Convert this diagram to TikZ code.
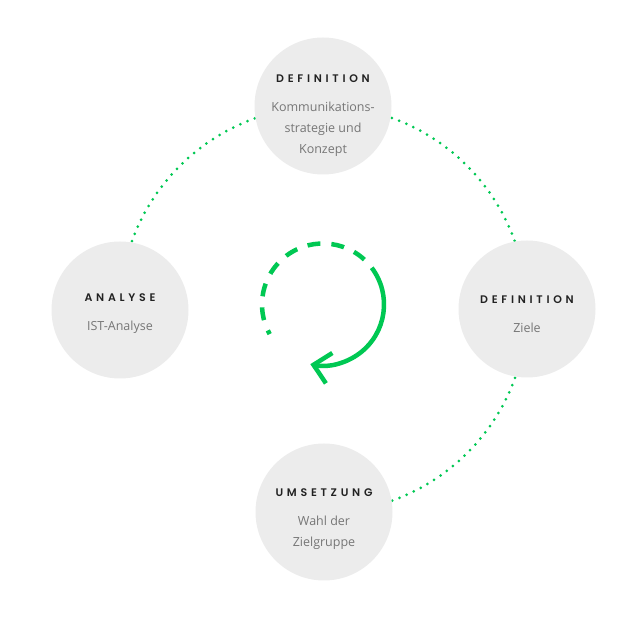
\documentclass[tikz,border=0pt]{standalone}
\usepackage{fontspec}
\setmainfont{Open Sans}
\newfontfamily\headfont[LetterSpace=34, BoldFont={* SemiBold}]{Poppins}
\usetikzlibrary{arrows.meta,backgrounds}

\definecolor{cyclegreen}{RGB}{0,200,83}
\definecolor{stagegray}{RGB}{236,236,236}
\definecolor{headgray}{RGB}{34,34,34}
\definecolor{bodygray}{RGB}{118,118,118}

\newcommand{\stagehead}[1]{{\headfont\bfseries\fontsize{11}{21}\selectfont\color{headgray}#1}}

\tikzset{
  stage/.style={circle, fill=stagegray, minimum size=137pt, inner sep=0pt},
  stagetext/.style={align=center, text=bodygray, inner sep=0pt,
    font=\fontsize{12.5}{21}\selectfont},
  ring/.style={cyclegreen, line width=3pt, line cap=round,
    dash pattern=on 0pt off 7.8pt},
  turn/.style={cyclegreen, line width=4.5pt}
}

\begin{document}
\begin{tikzpicture}[x=1pt, y=1pt]
\useasboundingbox (0,0) rectangle (640,620);

% the four stages
\node[stage] (definition) at (323,514) {};
\node[stage] (analyse) at (120,310) {};
\node[stage] (ziele) at (527,311) {};
\node[stage] (umsetzung) at (324,108) {};

% their texts, set a little below the centre
\node[stagetext] (definition-text) at ([yshift=-10pt]definition.center) {\stagehead{DEFINITION}\\[8pt]Kommunikations-\\strategie und\\Konzept};
\node[stagetext] (analyse-text) at ([yshift=-4pt]analyse.center) {\stagehead{ANALYSE}\\[8pt]IST-Analyse};
\node[stagetext] (ziele-text) at ([yshift=-5pt]ziele.center) {\stagehead{DEFINITION}\\[8pt]Ziele};
\node[stagetext] (umsetzung-text) at ([yshift=-7pt]umsetzung.center) {\stagehead{UMSETZUNG}\\[8pt]Wahl der\\Zielgruppe};

% dotted ring behind the stages
\begin{scope}[on background layer]
\draw[ring] (analyse.center) arc[start angle=180, end angle=90, radius=203.5pt];
\draw[ring] (definition.center) arc[start angle=90, end angle=0, radius=203.5pt];
\draw[ring] (ziele.center) arc[start angle=0, end angle=-90, radius=203.5pt];
\end{scope}

% turning arrow in the middle
\coordinate (mid) at (323,315.5);
\draw[turn, dash pattern=on 13pt off 11pt, dash phase=13pt] (mid) ++(37:61pt) arc[start angle=37, end angle=209, radius=61pt];
\draw[turn, -{Straight Barb[length=16pt, width=31pt]}] (mid) ++(37:61pt) arc[start angle=37, end angle=-102, radius=61pt];

\end{tikzpicture}
\end{document}
